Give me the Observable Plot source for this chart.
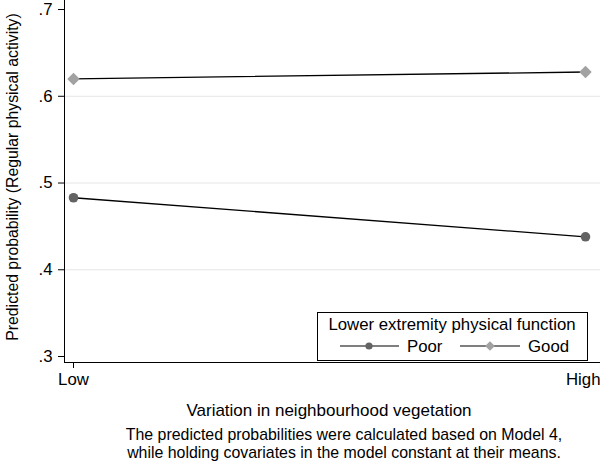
<!DOCTYPE html>
<html>
<head>
<meta charset="utf-8">
<script src="https://cdn.jsdelivr.net/npm/d3@7"></script>
<script src="https://cdn.jsdelivr.net/npm/@observablehq/plot@0.6"></script>
<style>
  html, body { margin: 0; padding: 0; background: #fff; overflow: hidden; }
  #wrap { position: relative; width: 600px; height: 462px; font-family: "Liberation Sans", Arial, Helvetica, sans-serif; color: #000; }
  .abs { position: absolute; white-space: nowrap; }
</style>
</head>
<body>
<div id="wrap">
  <div id="chart"></div>
  <div class="abs" id="ytitle" style="left:13px; top:177px; transform: translate(-50%,-50%) rotate(-90deg); font-size:15.8px;">Predicted probability (Regular physical activity)</div>
  <div class="abs" id="xtitle" style="left:329px; top:411px; transform: translate(-50%,-50%); font-size:17px;">Variation in neighbourhood vegetation</div>
  <div class="abs" id="caption" style="left:344px; top:426px; transform: translateX(-50%); font-size:15.9px; line-height:18px; text-align:center;">The predicted probabilities were calculated based on Model 4,<br>while holding covariates in the model constant at their means.</div>
  <div class="abs" id="legend" style="left:317px; top:312px; width:271px; height:49px; box-sizing:border-box; border:1px solid #000; background:#fff;"></div>
</div>
<script>
// ---- data ----
const levels = ["Low", "High"];
const groups = ["Poor", "Good"];
const poorValues = [0.483, 0.438];
const goodValues = [0.620, 0.628];
const yTicks = [0.3, 0.4, 0.5, 0.6, 0.7];
const gridTicks = [0.4, 0.5, 0.6];
const legendTitle = "Lower extremity physical function";

const colors = { Poor: "#636363", Good: "#a2a2a2" };
const symbols = { Poor: "circle", Good: "diamond2" };

const rows = [];
levels.forEach((lv, i) => {
  rows.push({ level: lv, idx: i, value: poorValues[i], group: "Poor" });
  rows.push({ level: lv, idx: i, value: goodValues[i], group: "Good" });
});

const xDomain = [-0.0176, 1.0293];
const yDomain = [0.2931, 0.7104];
const FONT = '"Liberation Sans", Arial, Helvetica, sans-serif';

const chart = Plot.plot({
  width: 600,
  height: 420,
  marginTop: 0,
  marginLeft: 64,
  marginRight: 0,
  marginBottom: 58,
  style: { fontFamily: FONT, fontSize: "16.8px", color: "#000", background: "#fff", overflow: "visible" },
  x: { domain: xDomain },
  y: { domain: yDomain },
  marks: [
    Plot.gridY(gridTicks, { stroke: "#e6e6e6", strokeOpacity: 1, strokeWidth: 1 }),
    Plot.axisY({ ticks: yTicks, tickFormat: d => d3.format(".1f")(d).replace(/^0/, ""), tickSize: 6, tickPadding: 6, label: null, fontSize: "16.8px" }),
    Plot.axisX({ ticks: [0], tickFormat: d => levels[d], tickSize: 6, tickPadding: 5, label: null, fontSize: "16.8px" }),
    Plot.axisX({ ticks: [1], tickFormat: d => levels[d], tickSize: 6, tickPadding: 5, label: null, fontSize: "16.8px", textAnchor: "end", dx: 15 }),
    Plot.ruleX([xDomain[0]], { stroke: "#000", strokeWidth: 1 }),
    Plot.ruleY([yDomain[0]], { stroke: "#000", strokeWidth: 1 }),
    Plot.line(rows, { x: "idx", y: "value", z: "group", stroke: "#000", strokeWidth: 1.3 }),
    Plot.dot(rows.filter(d => d.group === "Poor"), { x: "idx", y: "value", r: 4.8, fill: colors.Poor, stroke: null, symbol: "circle" }),
    Plot.dot(rows.filter(d => d.group === "Good"), { x: "idx", y: "value", r: 5.6, fill: colors.Good, stroke: null, symbol: "diamond2" })
  ]
});
document.getElementById("chart").appendChild(chart);

// ---- legend ----
const lg = d3.select("#legend").append("svg").attr("width", 269).attr("height", 47)
  .style("position", "absolute").style("left", "0px").style("top", "0px");
lg.append("text").attr("x", 134).attr("y", 11).attr("text-anchor", "middle").attr("dy", "0.35em")
  .style("font-size", "16.8px").style("font-family", FONT).text(legendTitle);
const items = [
  { g: groups[0], x0: 22, cx: 51, x1: 81, tx: 89 },
  { g: groups[1], x0: 142, cx: 172, x1: 202, tx: 210 }
];
items.forEach(it => {
  lg.append("line").attr("x1", it.x0).attr("x2", it.x1).attr("y1", 33).attr("y2", 33).attr("stroke", "#000").attr("stroke-width", 1.2);
  if (symbols[it.g] === "circle") {
    lg.append("circle").attr("cx", it.cx).attr("cy", 33).attr("r", 3.6).attr("fill", colors[it.g]);
  } else {
    lg.append("path").attr("transform", `translate(${it.cx},33)`).attr("d", d3.symbol(d3.symbolDiamond2, 60)()).attr("fill", colors[it.g]);
  }
  lg.append("text").attr("x", it.tx).attr("y", 33).attr("dy", "0.35em")
    .style("font-size", "16.8px").style("font-family", FONT).text(it.g);
});
</script>
</body>
</html>
